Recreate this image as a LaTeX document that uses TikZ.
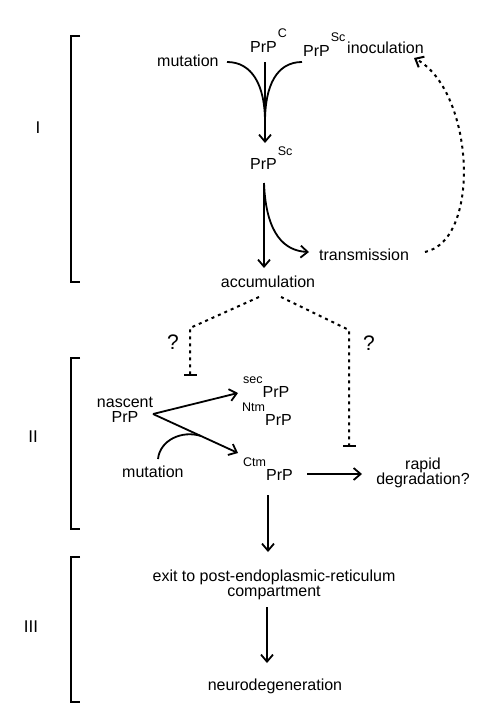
\documentclass[tikz,border=0pt]{standalone}
\usepackage{fontspec}
\setmainfont{Liberation Sans}
\usetikzlibrary{arrows.meta,calc,positioning}
\newcommand{\upsc}[1]{\raisebox{14pt}{\fontsize{12.5}{13}\selectfont #1}}
\tikzset{
  lbl/.style={inner sep=0pt, font=\fontsize{16}{15.5}\selectfont},
  stage/.style={inner sep=0pt, font=\fontsize{17}{17}\selectfont},
  qmark/.style={inner sep=0pt, font=\fontsize{21}{21}\selectfont},
  arr/.style={-{Straight Barb[length=7pt,width=12pt]}, line width=1.8pt},
  curv/.style={line width=1.8pt},
  dotline/.style={line width=2pt, dash pattern=on 3pt off 4pt},
  inhib/.style={dotline, -{Bar[width=13pt,line width=2pt]}},
  brk/.style={line width=2pt}
}
\begin{document}
\begin{tikzpicture}[x=1pt,y=-1pt]
\useasboundingbox (0,0) rectangle (495,728);

% stages
\draw[brk] (80,36) -| (70.5,282) -- (80,282);
\draw[brk] (80,358) -| (70.5,529) -- (80,529);
\draw[brk] (80,557) -| (70.5,702) -- (80,702);
\node[stage] (stI) at (38,128) {I};
\node[stage] (stII) at (33,437) {II};
\node[stage] (stIII) at (31,627) {III};

% stage I
\node[lbl,anchor=base west] (mutA) at (157,66) {mutation};
\node[lbl,anchor=base west] (prpC) at (250,52) {PrP\kern1pt\upsc{C}};
\node[lbl,anchor=base west] (prpScIn) at (303,56) {PrP\kern1pt\upsc{Sc}};
\node[lbl,anchor=base west] (inoc) at (347,53) {inoculation};
\node[lbl,anchor=base west] (prpSc) at (250,169) {PrP\kern1pt\upsc{Sc}};
\node[lbl,anchor=base west] (trans) at (319,260) {transmission};
\node[lbl,anchor=base] (accum) at (268,287) {accumulation};

\coordinate (mutOut) at (227,62);
\coordinate (inOut) at (302,62);
\coordinate (cOut) at (265,62);
\coordinate (join) at (265,122);
\coordinate (scIn) at (265,143);
\coordinate (scOut) at (264,183);
\coordinate (accIn) at (264,268);
\coordinate (trIn) at (309,252);
\coordinate (trOut) at (425,252);
\coordinate (inocIn) at (414,58);

\draw[curv] (mutOut) .. controls (252,62) and (265,85) .. (join);
\draw[curv] (inOut) .. controls (277,62) and (265,85) .. (join);
\draw[arr] (cOut) -- (scIn);
\draw[arr] (scOut) -- (accIn);
\draw[arr] (scOut) .. controls (266,235) and (285,251) .. (trIn);
\draw[dotline,-{Straight Barb[length=7pt,width=12pt]}] (trOut) .. controls (482,240) and (474,90) .. (inocIn);

% inhibition
\node[qmark] (qL) at (173,342) {?};
\node[qmark] (qR) at (369,343) {?};
\coordinate (accL) at (259,297);
\coordinate (accR) at (281,297);
\draw[inhib] (accL) -- (190,328) -- (190,376);
\draw[inhib] (accR) -- (349,330) -- (349,447);

% stage II
\node[lbl,align=center] (nasc) at (125,410) {nascent\\PrP};
\node[lbl,anchor=base west] (secP) at (243,397) {\upsc{sec}PrP};
\node[lbl,anchor=base west] (ntmP) at (242,425) {\upsc{Ntm}PrP};
\node[lbl,anchor=base west] (mutB) at (122,477) {mutation};
\node[lbl,anchor=base west] (ctmP) at (243,480) {\upsc{Ctm}PrP};
\node[lbl,align=center] (degr) at (423,473) {rapid\\degradation?};

\coordinate (nascOut) at (153,414);
\coordinate (secIn) at (238,393);
\coordinate (ctmIn) at (238,453);
\coordinate (mutBOut) at (158,459);
\coordinate (mutBJoin) at (201,436);
\coordinate (ctmOut) at (307,474);
\coordinate (degrIn) at (362,474);

\draw[arr] (nascOut) -- (secIn);
\draw[arr] (nascOut) -- (ctmIn);
\draw[curv] (mutBOut) .. controls (160,440) and (182,430) .. (mutBJoin);
\draw[arr] (ctmOut) -- (degrIn);

% stage III
\node[lbl,align=center] (exitER) at (274,585) {exit to post-endoplasmic-reticulum\\compartment};
\node[lbl,anchor=base] (neuro) at (275,690) {neurodegeneration};

\coordinate (ctmDown) at (268,495);
\coordinate (exitIn) at (268,552);
\coordinate (exitOut) at (267,607);
\coordinate (neuroIn) at (267,663);

\draw[arr] (ctmDown) -- (exitIn);
\draw[arr] (exitOut) -- (neuroIn);
\end{tikzpicture}
\end{document}
